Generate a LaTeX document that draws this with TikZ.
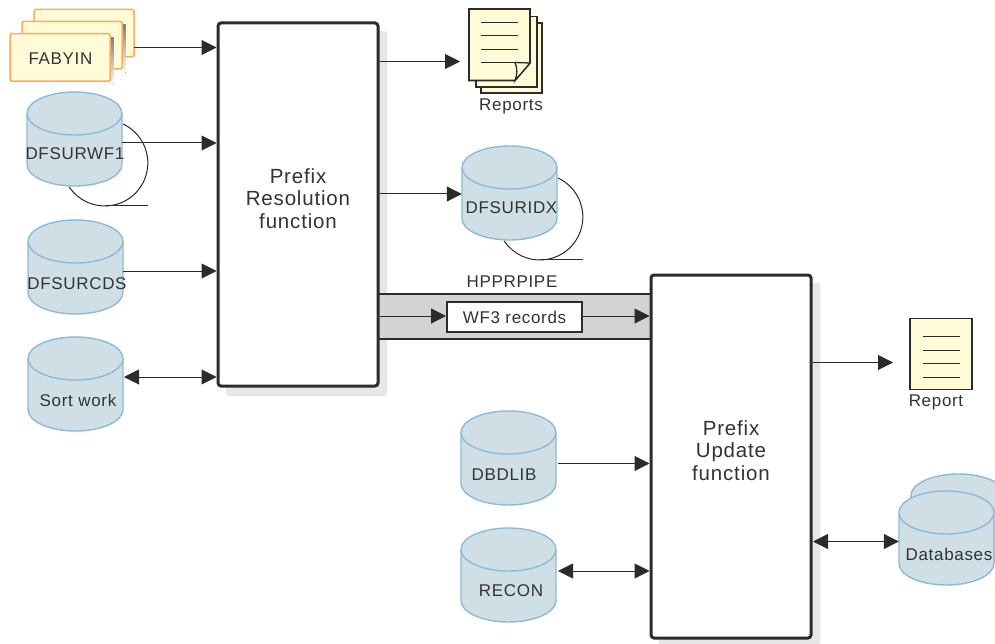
\documentclass[tikz,border=0pt]{standalone}
\usepackage{fontspec}
\setmainfont{Liberation Sans}
\newfontfamily\lblfont[LetterSpace=4]{Liberation Sans}
\usetikzlibrary{arrows.meta,calc}
\definecolor{ink}{HTML}{2B2B2B}
\definecolor{txt}{HTML}{333333}
\definecolor{cylfill}{HTML}{D0DEE6}
\definecolor{cylline}{HTML}{8CBBD8}
\definecolor{note}{HTML}{FFFBD6}
\definecolor{noteline}{HTML}{F9AE5B}
\definecolor{shade}{HTML}{E6E7E8}
\definecolor{pipe}{HTML}{D1D3D4}
\tikzset{
  lbl/.style={font=\lblfont\fontsize{17}{18}\selectfont,text=txt,inner sep=0pt},
  big/.style={font=\lblfont\fontsize{20.5}{22.5}\selectfont,text=txt,align=center,inner sep=0pt},
  flow/.style={draw=ink,line width=1pt,-{Triangle[length=15pt,width=15pt]}},
  flowboth/.style={draw=ink,line width=1pt,{Triangle[length=15pt,width=15pt]}-{Triangle[length=15pt,width=15pt]}},
  func/.style={draw=ink,line width=3pt,fill=white,rounded corners=3pt,inner sep=0pt},
  funcshadow/.style={fill=shade,rounded corners=3pt},
  cylbox/.style={inner sep=0pt,minimum width=95pt,minimum height=94pt},
  cylshape/.style={draw=cylline,fill=cylfill,line width=1.4pt},
  card/.style={draw=noteline,fill=note,line width=1.5pt,rounded corners=1.5pt},
  sheet/.style={draw=ink,fill=note,line width=1.6pt},
  rule/.style={draw=ink,line width=1pt},
  loopline/.style={draw=ink,line width=1pt}
}
% #1 name, #2 left x, #3 top y (the y axis points down)
\newcommand{\cyldraw}[3]{%
  \path[cylshape] (#2,#3+21.5) arc[start angle=180,end angle=360,x radius=47.5,y radius=21.5]
     -- (#2+95,#3+72.5) arc[start angle=0,end angle=180,x radius=47.5,y radius=21.5] -- cycle;
  \path[draw=cylline,line width=1.4pt] (#2,#3+21.5) arc[start angle=180,end angle=0,x radius=47.5,y radius=21.5];
  \node[cylbox] (#1) at (#2+47.5,#3+47) {};
}
\begin{document}
\begin{tikzpicture}[x=1pt,y=-1pt]
\useasboundingbox (0,0) rectangle (995,644);
\fill[white] (0,0) rectangle (995,644);

% function box shadows
\fill[funcshadow] (226,31) rectangle (387,396);
\fill[funcshadow] (659,283) rectangle (820,646);

% pipe
\path[fill=pipe] (378,294) rectangle (651,339);
\draw[draw=ink,line width=2.5pt] (378,294) -- (651,294);
\draw[draw=ink,line width=2.5pt] (378,339) -- (651,339);

% function boxes
\node[func,minimum width=160pt,minimum height=363pt] (res) at (298,204.5) {};
\node[func,minimum width=160pt,minimum height=363pt] (upd) at (731,456.5) {};
\node[big] (restext) at (298,198.5) {Prefix\\Resolution\\function};
\node[big] (updtext) at (731,450.5) {Prefix\\Update\\function};

% FABYIN stack
\path[card] (34,9.5) rectangle (134,57);
\fill[shade] (25.5,25) rectangle (125.5,73);
\path[card] (22,21.5) rectangle (122,69);
\fill[shade] (13,38) rectangle (113.5,85);
\node[card,minimum width=100pt,minimum height=47.5pt,inner sep=0pt] (fab) at (60,57.5) {};
\node[lbl] (fabt) at (60.5,58.5) {FABYIN};

% loops behind cylinders
\draw[loopline] (123,124) arc[start angle=-65,end angle=146,radius=43];
\draw[loopline] (105,205.5) -- (148,205.5);
\draw[loopline] (558,178) arc[start angle=-65,end angle=146,radius=43];
\draw[loopline] (540,259.5) -- (583,259.5);

% cylinders
\cyldraw{wf1}{27}{92}
\node[lbl] (wf1t) at (75,154) {DFSURWF1};
\cyldraw{cds}{28}{220}
\node[lbl] (cdst) at (77,284) {DFSURCDS};
\cyldraw{sort}{28}{337}
\node[lbl] (sortt) at (78,400) {Sort work};
\cyldraw{idx}{462}{146}
\node[lbl] (idxt) at (511.5,208) {DFSURIDX};
\cyldraw{dbd}{461}{411}
\node[lbl] (dbdt) at (504,475) {DBDLIB};
\cyldraw{rec}{461}{528}
\node[lbl] (rect) at (511,591) {RECON};
\cyldraw{dbback}{911}{474}
\cyldraw{db}{899}{491}
\node[lbl] (dbt) at (949,554) {Databases};

% reports
\path[sheet] (481,23) rectangle (542,93);
\path[sheet] (476,16.5) rectangle (537,87);
\path[sheet] (469,9) -- (530,9) -- (530,63) -- (515,80.5) -- (469,80.5) -- cycle;
\node[minimum width=61pt,minimum height=71pt,inner sep=0pt] (rep) at (499.5,44.5) {};
\foreach \yy in {23,36,49.5,63} \draw[rule] (480.5,\yy) -- (518,\yy);
\path[sheet,line width=1.3pt] (515,62.5) -- (530,63) -- (515,80.5) .. controls (517.5,74) and (517.5,69) .. (515,62.5);
\node[lbl] (rept) at (511,106) {Reports};

% single report
\node[sheet,minimum width=62pt,minimum height=71pt,inner sep=0pt] (single) at (941,354) {};
\foreach \yy in {336.7,350,363.3,377} \draw[rule] (923,\yy) -- (960,\yy);
\node[lbl] (singlet) at (936,402) {Report};

% pipe labels
\node[lbl] (pipet) at (512,282) {HPPRPIPE};
\node[draw=ink,fill=white,line width=2pt,minimum width=135pt,minimum height=30pt,inner sep=0pt,lbl] (wf3) at (514.5,317) {WF3 records};

% connectors
\draw[flow] (134,47.5) -- (res.west |- 0,47.5);
\draw[flow] (wf1.east |- 0,143) -- (res.west |- 0,143);
\draw[flow] (cds.east |- 0,271) -- (res.west |- 0,271);
\draw[flowboth] (124,377) -- (res.west |- 0,377);
\draw[flow] (res.east |- 0,61.5) -- (460,61.5);
\draw[flow] (res.east |- 0,194) -- (idx.west |- 0,194);
\draw[flow] (res.east |- 0,316) -- (wf3.west |- 0,316);
\draw[flow] (wf3.east |- 0,316) -- (upd.west |- 0,316);
\draw[flow] (upd.east |- 0,362.5) -- (893,362.5);
\draw[flow] (558,463.5) -- (upd.west |- 0,463.5);
\draw[flowboth] (558,571) -- (upd.west |- 0,571);
\draw[flowboth] (813,541.5) -- (db.west |- 0,541.5);
\end{tikzpicture}
\end{document}
